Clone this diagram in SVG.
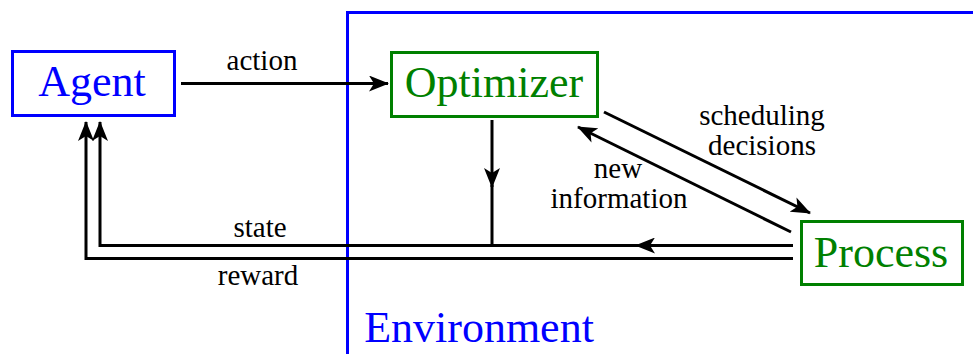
<svg xmlns="http://www.w3.org/2000/svg" width="973" height="354" viewBox="0 0 973 354">
<style>
text{font-family:"Liberation Serif",Tinos,"Times New Roman",Times,"DejaVu Serif","Noto Serif",serif}
.lbl{font-size:29px;fill:#000;text-anchor:middle}
.big{font-size:44px;text-anchor:middle}
.conn{stroke:#000;stroke-width:3;fill:none}
</style>
<defs>
<marker id="ah" viewBox="0 0 20 16" refX="19" refY="8" markerWidth="20" markerHeight="16" markerUnits="userSpaceOnUse" orient="auto">
<path d="M0,0 L20,8 L0,16 L5,8 Z" fill="#000"/>
</marker>
</defs>
<g id="environment">
<path d="M347.5,354 V12.5 H973" fill="none" stroke="#0000ff" stroke-width="3"/>
<text class="big" x="479" y="342" fill="#0000ff">Environment</text>
</g>
<g id="agent">
<rect x="12.5" y="51.5" width="162" height="64" fill="#fff" stroke="#0000ff" stroke-width="3"/>
<text class="big" x="92" y="96" fill="#0000ff">Agent</text>
</g>
<g id="optimizer">
<rect x="391.5" y="52.5" width="206" height="64" fill="#fff" stroke="#008000" stroke-width="3"/>
<text class="big" x="494" y="97" fill="#008000">Optimizer</text>
</g>
<g id="process">
<rect x="801.5" y="221.5" width="161" height="63" fill="#fff" stroke="#008000" stroke-width="3"/>
<text class="big" x="881" y="267" fill="#008000">Process</text>
</g>
<g id="connectors">
<line class="conn" x1="181" y1="83.5" x2="388" y2="83.5" marker-end="url(#ah)"/>
<text class="lbl" x="262" y="70">action</text>
<line class="conn" x1="492" y1="120" x2="492" y2="187" marker-end="url(#ah)"/>
<line class="conn" x1="492" y1="185" x2="492" y2="245.5"/>
<line class="conn" x1="604" y1="112" x2="810" y2="213" marker-end="url(#ah)"/>
<text class="lbl" x="762" y="125">scheduling</text>
<text class="lbl" x="762" y="155">decisions</text>
<line class="conn" x1="791" y1="232" x2="578" y2="127" marker-end="url(#ah)"/>
<text class="lbl" x="618" y="178">new</text>
<text class="lbl" x="619" y="208">information</text>
<line class="conn" x1="793" y1="245.5" x2="636" y2="245.5" marker-end="url(#ah)"/>
<path class="conn" d="M640,245.5 H100 V122" marker-end="url(#ah)"/>
<path class="conn" d="M793,258.5 H86 V122" marker-end="url(#ah)"/>
<text class="lbl" x="260" y="237">state</text>
<text class="lbl" x="258" y="285">reward</text>
</g>
</svg>
